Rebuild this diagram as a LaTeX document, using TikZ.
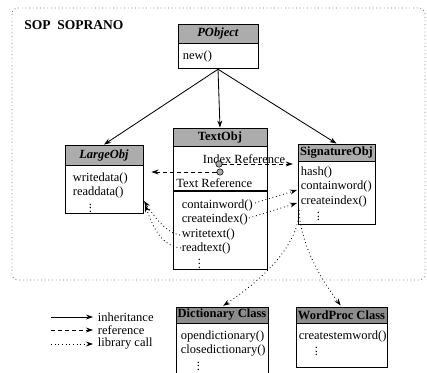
\documentclass[tikz,border=0pt]{standalone}
\usepackage{fontspec}
\setmainfont{Liberation Serif}
\usetikzlibrary{arrows.meta}
\definecolor{hdrgray}{RGB}{172,172,172}
\definecolor{hdrdark}{RGB}{140,140,140}
\definecolor{framegray}{RGB}{120,120,120}
\newcommand{\opfont}{\fontsize{8.9}{10.3}\selectfont}
\newcommand{\opdots}{\hspace*{4mm}\smash{\raisebox{-1.5pt}{\vbox{\baselineskip=2.6pt\lineskip=0pt\lineskiplimit=-10pt\hbox{.}\hbox{.}\hbox{.}}}}}

\begin{document}
\begin{tikzpicture}[x=0.025cm, y=-0.025cm,
  hdr/.style={draw, fill=hdrgray, font=\opfont\bfseries, inner sep=0pt,
    line width=0.6pt},
  sect/.style={draw, anchor=north, inner sep=0pt, line width=0.6pt},
  ops/.style={anchor=north west, inner sep=0pt, align=left, font=\opfont},
  pin/.style={draw, circle, fill=hdrgray, inner sep=0pt,
    minimum size=0.16cm, line width=0.4pt},
  inh/.style={-{Stealth[length=5pt, width=3.5pt]}, line width=0.6pt},
  ref/.style={-{Stealth[length=5pt, width=3.5pt]}, line width=0.6pt,
    dash pattern=on 3pt off 2pt},
  lib/.style={-{Stealth[length=5pt, width=3.5pt]}, line width=0.6pt, dotted},
  lbl/.style={anchor=west, font=\opfont},
  frame/.style={framegray, dotted, line width=0.6pt, rounded corners=0.15cm},
]
\useasboundingbox (0,0) rectangle (427,373);

% ---- SOPRANO frame ----
\draw[frame] (12,8) rectangle (425,280);
\node[anchor=west, inner sep=0pt, font=\fontsize{9.6}{11}\selectfont\bfseries]
  (title) at (24,25) {SOP~~SOPRANO};

% ---- PObject (top) ----
\node[hdr, minimum width=2cm, minimum height=0.475cm] (pobj) at (218,33.5)
  {\textit{PObject}};
\node[sect, minimum width=2cm, minimum height=0.625cm] (pobj-b) at (pobj.south) {};
\node[ops] (pobj-ops) at ([shift={(5,7)}]pobj-b.north west) {new()};

% ---- LargeObj (left) ----
\node[hdr, minimum width=1.95cm, minimum height=0.5cm] (large) at (104,155)
  {\textit{LargeObj}};
\node[sect, minimum width=1.95cm, minimum height=1.2cm] (large-b) at (large.south) {};
\node[ops] (large-ops) at ([shift={(8,7)}]large-b.north west)
  {writedata()\\readdata()\\\opdots};

% ---- TextObj (centre) ----
\node[hdr, minimum width=2.35cm, minimum height=0.45cm] (text) at (220,137)
  {TextObj};
\node[sect, minimum width=2.35cm, minimum height=1.1cm] (text-r) at (text.south) {};
\node[sect, minimum width=2.35cm, minimum height=1.95cm] (text-m) at (text-r.south) {};
\node[font=\opfont, inner sep=0pt] (idx-lbl) at (244,159) {Index Reference};
\node[font=\opfont, inner sep=0pt, anchor=west] (txt-lbl) at (176,183) {Text Reference};
\node[pin] (idx-pin) at (219,164) {};
\node[pin] (txt-pin) at (220,172) {};
\node[ops] (text-ops) at ([shift={(9,8)}]text-m.north west)
  {containword()\\createindex()\\writetext()\\readtext()\\\opdots};

% ---- SignatureObj (right) ----
\node[hdr, minimum width=1.925cm, minimum height=0.425cm] (sig) at (336.5,152.5)
  {SignatureObj};
\node[sect, minimum width=1.925cm, minimum height=1.575cm] (sig-b) at (sig.south) {};
\node[ops] (sig-ops) at ([shift={(3,5)}]sig-b.north west)
  {hash()\\containword()\\createindex()\\\opdots};

% ---- library classes (bottom) ----
\node[hdr, fill=hdrdark, minimum width=2.3cm, minimum height=0.4cm] (dict) at (222,315)
  {Dictionary Class};
\node[sect, minimum width=2.3cm, minimum height=1.425cm] (dict-b) at (dict.south) {};
\node[ops] (dict-ops) at ([shift={(5,7)}]dict-b.north west)
  {opendictionary()\\closedictionary()\\\opdots};

\node[hdr, fill=hdrdark, minimum width=2.275cm, minimum height=0.4cm] (wp) at (341.5,315)
  {WordProc Class};
\node[sect, minimum width=2.275cm, minimum height=1.1cm] (wp-b) at (wp.south) {};
\node[ops] (wp-ops) at ([shift={(3,7)}]wp-b.north west)
  {createstemword()\\\opdots};

% ---- inheritance ----
\draw[inh] (pobj-b.south) -- (large.north);
\draw[inh] (pobj-b.south) -- (text.north);
\draw[inh] (pobj-b.south) -- (sig.north);

% ---- references ----
\draw[ref, shorten >=0.12cm] (idx-pin.east) -- (idx-pin.east -| sig-b.west);
\draw[ref, shorten >=0.2cm] (txt-pin.west) -- (txt-pin.west -| large-b.east);

% ---- library calls ----
\coordinate (cw-out) at (255,203);
\coordinate (ci-out) at (249,218);
\coordinate (sig-cw) at (297,190);
\coordinate (sig-ci) at (297,203);
\coordinate (wt-out) at (180,235);
\coordinate (rt-out) at (181,248);
\coordinate (large-wt) at (144,201);
\coordinate (large-rt) at (145,205);
\coordinate (sig-out) at (299,210);

\draw[lib] (cw-out) -- (sig-cw);
\draw[lib] (ci-out) -- (sig-ci);
\draw[lib] (wt-out) .. controls +(-15,-2) and +(8,12) .. (large-wt);
\draw[lib] (rt-out) .. controls +(-22,-2) and +(6,16) .. (large-rt);
\draw[lib, shorten >=1pt] (sig-out) .. controls +(0,40) and +(30,-20) .. (dict.north);
\draw[lib, shorten >=1pt] (sig-out) .. controls +(2,40) and +(-15,-20) .. (wp.north);

% ---- legend ----
\node[lbl] (lg-inh) at (93,317) {inheritance};
\node[lbl] (lg-ref) at (93,330) {reference};
\node[lbl] (lg-lib) at (93,344) {library call};
\draw[inh] ([xshift=-1.05cm]lg-inh.west) -- (lg-inh.west);
\draw[ref] ([xshift=-1.05cm]lg-ref.west) -- (lg-ref.west);
\draw[lib] ([xshift=-1.05cm]lg-lib.west) -- (lg-lib.west);

\end{tikzpicture}
\end{document}
